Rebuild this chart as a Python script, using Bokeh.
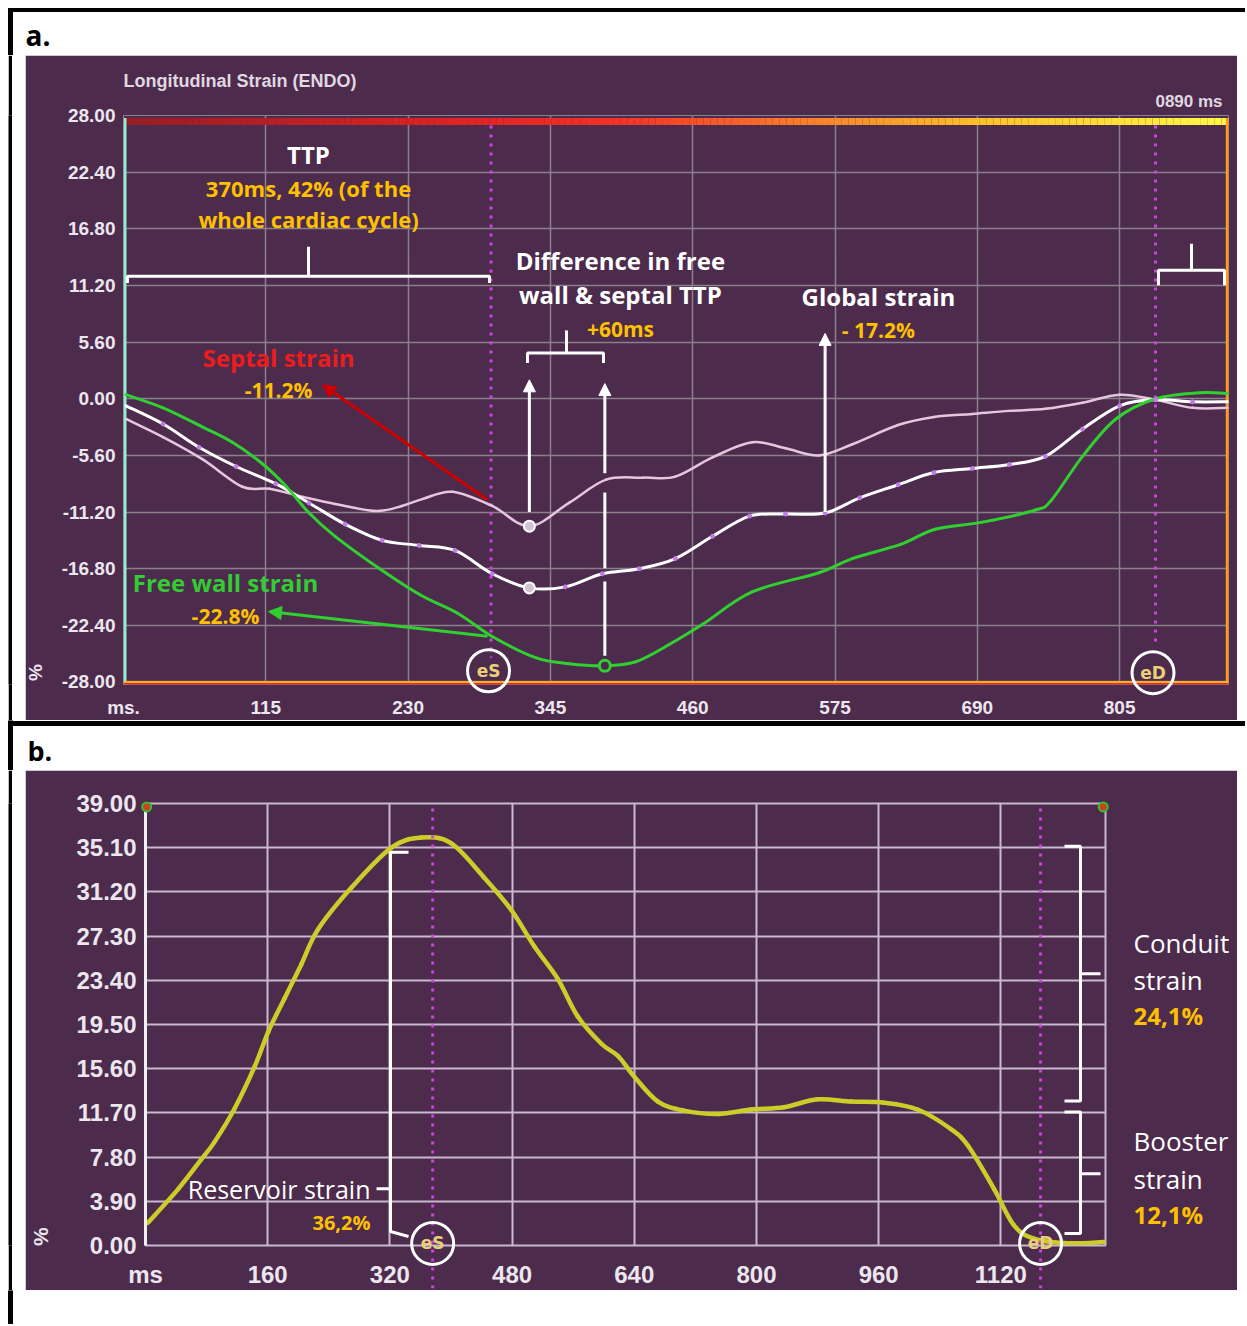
import numpy as np
from bokeh.plotting import figure
from bokeh.models import Range1d, FixedTicker, PrintfTickFormatter, Arrow, NormalHead
from bokeh.layouts import column, row
from bokeh.embed import file_html
from bokeh.resources import INLINE
from bokeh.core.properties import value

# ---------------- Panel a data: longitudinal strain (ENDO), % vs ms ----------------
fw_t = [2, 32, 64, 88, 112, 131, 150, 171, 207, 240, 270, 298, 333, 360, 389, 414, 441,
        468, 508, 562, 589, 628, 656, 694, 737, 750, 775, 802, 834, 870, 893]
fw_v = [0.4, -0.9, -2.8, -4.3, -6.4, -8.6, -11.3, -13.6, -16.8, -19.4, -21.2, -23.5, -25.6,
        -26.2, -26.4, -26.0, -24.3, -22.3, -19.1, -17.2, -15.8, -14.4, -12.9, -12.2, -11.0,
        -10.0, -5.7, -2.0, 0.0, 0.6, 0.5]
gl_t = [2, 32, 61, 91, 123, 150, 179, 209, 239, 268, 298, 328, 357, 387, 417, 446, 476, 506,
        535, 567, 595, 626, 655, 686, 716, 745, 775, 805, 834, 864, 893]
gl_v = [-0.7, -2.5, -4.8, -6.7, -8.4, -10.3, -12.4, -14.0, -14.5, -15.0, -17.3, -18.7, -18.6,
        -17.3, -16.8, -15.8, -13.6, -11.6, -11.4, -11.3, -9.8, -8.5, -7.3, -6.9, -6.5, -5.7,
        -3.0, -0.7, -0.1, -0.3, -0.3]
sp_t = [2, 32, 64, 96, 118, 145, 171, 204, 225, 242, 266, 298, 328, 360, 390, 420, 446, 476,
        508, 535, 562, 589, 626, 655, 686, 716, 745, 775, 805, 834, 864, 893]
sp_v = [-2.0, -3.8, -6.0, -8.7, -8.9, -9.7, -10.4, -11.1, -10.6, -9.9, -9.2, -10.6, -12.6,
        -10.3, -8.0, -7.8, -7.7, -5.8, -4.3, -4.9, -5.6, -4.5, -2.6, -1.8, -1.5, -1.2, -1.0,
        -0.4, 0.4, -0.1, -0.9, -0.9]
a_xticks = [0, 115, 230, 345, 460, 575, 690, 805]
a_yticks = [-28.0, -22.4, -16.8, -11.2, -5.6, 0.0, 5.6, 11.2, 16.8, 22.4, 28.0]
a_es, a_ed = 297, 834          # end-systole / end-diastole (ms)
a_global_t = 567               # global strain read-out time (ms)

# ---------------- Panel b data: left atrial strain, % vs ms ----------------
la_t = [3, 43, 73, 90, 116, 143, 161, 182, 204, 226, 270, 322, 361, 400, 443, 479, 509, 540,
        566, 597, 619, 640, 671, 705, 750, 793, 836, 880, 924, 967, 1011, 1054, 1077, 1111,
        1137, 1163, 1207, 1255]
la_v = [2.0, 5.0, 7.6, 9.1, 12.0, 15.8, 18.9, 21.8, 24.8, 27.9, 31.6, 35.1, 36.0, 35.5, 32.5,
        29.6, 26.4, 23.5, 20.2, 17.8, 16.7, 14.9, 12.7, 11.9, 11.6, 12.0, 12.2, 12.9, 12.7,
        12.6, 12.0, 10.3, 8.8, 5.0, 1.8, 0.6, 0.2, 0.3]
b_xticks = [0, 160, 320, 480, 640, 800, 960, 1120]
b_yticks = [round(3.9 * k, 2) for k in range(11)]
b_es, b_ed = 376, 1172

# ---------------- styles ----------------
BG = "#4c2b4c"
ORANGE = "#ffc000"
RED = "#ee1c1c"
GREEN_TXT = "#33cc33"
MAG = "#cc44dd"
TICK_TXT = "#ece6ee"
W = 1245


def blank(w, h, fill="white"):
    p = figure(width=w, height=h, x_range=Range1d(0, w), y_range=Range1d(0, h),
               toolbar_location=None, output_backend="svg", min_border=0,
               x_axis_type=None, y_axis_type=None)
    p.outline_line_color = None
    p.background_fill_color = fill
    p.border_fill_color = fill
    return p


def txt(p, x, y, text, color="white", size=24, font="Open Sans", style="bold",
        align="center", baseline="middle", angle=0.0):
    p.text(x=[x], y=[y], text=[text], text_color=color, text_font=value(font),
           text_font_size=f"{size}px", text_font_style=style, text_align=align,
           text_baseline=baseline, angle=angle, level="overlay")


def smooth(p, xs, ys, **kw):
    """Draw a smooth (Catmull-Rom) curve through the read data points."""
    P = np.column_stack([xs, ys]).astype(float)
    n = len(P)
    x0, y0, x1, y1, cx0, cy0, cx1, cy1 = ([] for _ in range(8))
    for i in range(n - 1):
        p0 = P[i - 1] if i > 0 else P[i]
        p1, p2 = P[i], P[i + 1]
        p3 = P[i + 2] if i + 2 < n else P[i + 1]
        c1 = p1 + (p2 - p0) / 6.0
        c2 = p2 - (p3 - p1) / 6.0
        x0.append(p1[0]); y0.append(p1[1]); x1.append(p2[0]); y1.append(p2[1])
        cx0.append(c1[0]); cy0.append(c1[1]); cx1.append(c2[0]); cy1.append(c2[1])
    p.bezier(x0=x0, y0=y0, x1=x1, y1=y1, cx0=cx0, cy0=cy0, cx1=cx1, cy1=cy1,
             line_cap="round", **kw)


def arrow(p, x0, y0, x1, y1, color, width=3, head=12, dash="solid"):
    end = NormalHead(size=head, fill_color=color, line_color=color, line_width=1) if head else None
    p.add_layout(Arrow(end=end, x_start=x0, y_start=y0, x_end=x1, y_end=y1,
                       line_color=color, line_width=width, line_dash=dash))


def ring(p, x, y, text):
    p.scatter([x], [y], marker="circle", size=42, fill_color=None, line_color="white",
              line_width=3, level="overlay")
    txt(p, x, y, text, color="#e8d07a", size=17, font="DejaVu Sans")


def style_axes(p, size):
    for ax in (p.xaxis, p.yaxis):
        ax.axis_line_color = None
        ax.major_tick_line_color = None
        ax.minor_tick_line_color = None
        ax.major_label_text_color = TICK_TXT
        ax.major_label_text_font = "Liberation Sans"
        ax.major_label_text_font_style = "bold"
        ax.major_label_text_font_size = size


def side_strips(h):
    return [blank(8, h), blank(4, h, "black"), blank(13, h)]


# ======================= header =======================
hdr = blank(W, 55)
hdr.quad(left=8, right=W, bottom=44, top=47, color="black")
hdr.quad(left=8, right=12, bottom=0, top=47, color="black")
txt(hdr, 25, 21, "a.", color="black", size=28, align="left")

# ======================= panel a =======================
pa = figure(width=1212, height=665, x_range=Range1d(0, 893), y_range=Range1d(-28.25, 28),
            toolbar_location=None, output_backend="svg",
            min_border_left=98, min_border_right=9, min_border_top=60, min_border_bottom=28)
pa.background_fill_color = BG
pa.border_fill_color = BG
pa.outline_line_color = "#8a808c"
style_axes(pa, "19px")
pa.xaxis.ticker = FixedTicker(ticks=a_xticks)
pa.xaxis.major_label_overrides = {0: "ms."}
pa.xaxis.major_label_standoff = 6
pa.yaxis.ticker = FixedTicker(ticks=a_yticks)
pa.yaxis.formatter = PrintfTickFormatter(format="%.2f")
pa.yaxis.major_label_standoff = 2
pa.grid.grid_line_color = "#8a808c"
pa.grid.grid_line_width = 1.5

# colour bar along the top
stops = [(0.0, (150, 30, 35)), (0.3, (225, 35, 35)), (0.45, (245, 50, 40)),
         (0.6, (250, 120, 40)), (0.78, (255, 195, 40)), (1.0, (255, 250, 70))]
N = 160
fs = np.linspace(0, 1, N + 1)
cols = []
for i in range(N):
    f = (fs[i] + fs[i + 1]) / 2
    for (f0, c0), (f1, c1) in zip(stops[:-1], stops[1:]):
        if f0 <= f <= f1:
            w = (f - f0) / (f1 - f0)
            c = tuple(int(c0[k] + w * (c1[k] - c0[k])) for k in range(3))
            cols.append("#%02x%02x%02x" % c)
            break
x_edges = fs * 893
pa.quad(left=x_edges[:-1], right=x_edges[1:], bottom=27.05, top=27.75, color=cols, line_color=None)

# frame edges
pa.segment(x0=[1.2], y0=[27.75], x1=[1.2], y1=[-28.25], color="#8ff0d0", line_width=3)
pa.segment(x0=[892], y0=[27.75], x1=[892], y1=[-28.25], color="#ff9a1a", line_width=3)
pa.segment(x0=[0], y0=[-28.0], x1=[893], y1=[-28.0], color="#ffb020", line_width=2)
pa.segment(x0=[0], y0=[-28.2], x1=[893], y1=[-28.2], color="#e02828", line_width=2)

# eS / eD markers
pa.segment(x0=[a_es], y0=[27.0], x1=[a_es], y1=[-25.6], color=MAG, line_width=3, line_dash="3 6")
pa.segment(x0=[a_ed], y0=[27.0], x1=[a_ed], y1=[-24.5], color=MAG, line_width=3, line_dash="3 6")

# curves
smooth(pa, sp_t, sp_v, line_color="#e6c6df", line_width=2.5)
smooth(pa, gl_t, gl_v, line_color="white", line_width=3)
smooth(pa, fw_t, fw_v, line_color="#2fd02f", line_width=3)
pa.scatter(gl_t[1:-1], gl_v[1:-1], size=4, color="#c27ae8")

i_sp = int(np.argmin(sp_v)); i_gl = int(np.argmin(gl_v)); i_fw = int(np.argmin(fw_v))
pa.scatter([sp_t[i_sp]], [sp_v[i_sp]], size=11, fill_color="#d8c0d8", line_color="white", line_width=2)
pa.scatter([gl_t[i_gl]], [gl_v[i_gl]], size=11, fill_color="#cfc4cf", line_color="white", line_width=2)
pa.scatter([fw_t[i_fw]], [fw_v[i_fw]], size=11, fill_color=BG, line_color="#2fd02f", line_width=3)

# brackets
pa.multi_line(xs=[[3.2, 3.2, 295.8, 295.8], [149.5, 149.5],
                  [836.4, 836.4, 889.8, 889.8], [863.1, 863.1],
                  [326.5, 326.5, 387.9, 387.9], [358.0, 358.0]],
              ys=[[11.43, 12.11, 12.11, 11.43], [12.11, 15.03],
                  [11.23, 12.69, 12.69, 11.23], [12.69, 15.33],
                  [3.53, 4.51, 4.51, 3.53], [4.51, 6.75]],
              color="white", line_width=3)

# TTP arrows
t_sp = sp_t[i_sp]
arrow(pa, t_sp, sp_v[i_sp] + 1.4, t_sp, 1.87, "white")
t_fw = fw_t[i_fw]
p_at = float(np.interp(t_fw, sp_t, sp_v)); g_at = float(np.interp(t_fw, gl_t, gl_v))
arrow(pa, t_fw, p_at + 0.7, t_fw, 1.5, "white")
pa.segment(x0=[t_fw, t_fw], y0=[p_at - 1.2, g_at - 0.8], x1=[t_fw, t_fw], y1=[g_at + 0.5, fw_v[i_fw] + 1.0],
           color="white", line_width=3)
g_gs = float(np.interp(a_global_t, gl_t, gl_v))
arrow(pa, a_global_t, g_gs + 0.1, a_global_t, 6.46, "white")
arrow(pa, 294.2, -10.02, 160.8, 1.39, "#cc0000", width=3, head=13)
arrow(pa, 294.2, -23.47, 117.2, -21.04, "#2fd02f", width=3, head=13)

# texts
txt(pa, 0, 31.41, "Longitudinal Strain (ENDO)", color="#e0d8e0", size=18,
    font="Liberation Sans", align="left")
txt(pa, 888.2, 29.36, "0890 ms", color="#e0d8e0", size=17, font="Liberation Sans", align="right")
txt(pa, -71.1, -27.08, "%", color=TICK_TXT, size=19, font="Liberation Sans", angle=np.pi / 2)
txt(pa, 149.5, 24.10, "TTP", size=24)
txt(pa, 149.5, 20.79, "370ms, 42% (of the", color=ORANGE, size=22)
txt(pa, 149.5, 17.76, "whole cardiac cycle)", color=ORANGE, size=22)
txt(pa, 401.6, 13.67, "Difference in free", size=24)
txt(pa, 401.6, 10.26, "wall & septal TTP", size=24)
txt(pa, 401.6, 6.94, "+60ms", color=ORANGE, size=21)
txt(pa, 610.1, 10.06, "Global strain", size=24)
txt(pa, 610.1, 6.75, "- 17.2%", color=ORANGE, size=21)
txt(pa, 125.3, 4.12, "Septal strain", color=RED, size=24)
txt(pa, 125.3, 0.90, "-11.2%", color=ORANGE, size=21)
txt(pa, 82.4, -18.21, "Free wall strain", color=GREEN_TXT, size=24)
txt(pa, 82.4, -21.52, "-22.8%", color=ORANGE, size=21)
ring(pa, a_es - 2, -26.89, "eS")
ring(pa, a_ed - 2, -27.08, "eD")

# ======================= divider =======================
div = blank(W, 50)
div.quad(left=8, right=W, bottom=45, top=49, color="black")
div.quad(left=8, right=12, bottom=0, top=50, color="black")
txt(div, 27, 20, "b.", color="black", size=27, align="left")

# ======================= panel b =======================
pb = figure(width=1212, height=520, x_range=Range1d(0, 1257), y_range=Range1d(0, 39),
            toolbar_location=None, output_backend="svg",
            min_border_left=120, min_border_right=132, min_border_top=33, min_border_bottom=43)
pb.background_fill_color = BG
pb.border_fill_color = BG
pb.outline_line_color = "#c8b8d0"
pb.outline_line_width = 2
style_axes(pb, "24px")
pb.xaxis.ticker = FixedTicker(ticks=b_xticks)
pb.xaxis.major_label_overrides = {0: "ms"}
pb.xaxis.major_label_standoff = 9
pb.yaxis.ticker = FixedTicker(ticks=b_yticks)
pb.yaxis.formatter = PrintfTickFormatter(format="%.2f")
pb.yaxis.major_label_standoff = 3
pb.yaxis.axis_line_color = "#f0f0f0"
pb.yaxis.axis_line_width = 3
pb.grid.grid_line_color = "#c8b8d0"
pb.grid.grid_line_width = 2

pb.segment(x0=[b_es, b_ed], y0=[38.56, 38.56], x1=[b_es, b_ed], y1=[-3.78, -3.78],
           color=MAG, line_width=3, line_dash="3 6", level="overlay")

smooth(pb, la_t, la_v, line_color="#cdcd2a", line_width=4.5)
pb.scatter([1.5, 1254], [38.7, 38.7], size=9, fill_color="#d04020", line_color="#30c030",
           line_width=2, level="overlay")

# brackets
pb.multi_line(xs=[[344.4, 320.8, 320.8, 344.4], [320.8, 302.5],
                  [1203.3, 1224.3, 1224.3, 1203.3], [1224.3, 1250.5],
                  [1203.3, 1224.3, 1224.3, 1203.3], [1224.3, 1250.5]],
              ys=[[34.70, 34.70, 1.23, 0.79], [5.0, 5.0],
                  [35.22, 35.22, 12.74, 12.74], [23.98, 23.98],
                  [11.77, 11.77, 1.05, 1.05], [6.32, 6.32]],
              color="white", line_width=3)

txt(pb, -137.5, 0.79, "%", color=TICK_TXT, size=21, font="Liberation Sans", angle=np.pi / 2)
txt(pb, 294.6, 5.0, "Reservoir strain", size=25, style="normal", align="right")
txt(pb, 294.6, 2.02, "36,2%", color=ORANGE, size=20, align="right")
txt(pb, 1293.7, 26.70, "Conduit", size=26, style="normal", align="left")
txt(pb, 1293.7, 23.45, "strain", size=26, style="normal", align="left")
txt(pb, 1293.7, 20.29, "24,1%", color=ORANGE, size=24, align="left")
txt(pb, 1293.7, 9.22, "Booster", size=26, style="normal", align="left")
txt(pb, 1293.7, 5.88, "strain", size=26, style="normal", align="left")
txt(pb, 1293.7, 2.72, "12,1%", color=ORANGE, size=24, align="left")
ring(pb, b_es, 0.18, "eS")
ring(pb, b_ed, 0.18, "eD")

# ======================= footer =======================
ftr = blank(W, 34)
ftr.quad(left=8, right=12, bottom=0, top=34, color="black")

rowA = row(*side_strips(665), pa, blank(8, 665))
rowB = row(*side_strips(520), pb, blank(8, 520))
layout = column(hdr, rowA, div, rowB, ftr)
open("out.html", "w").write(file_html(layout, INLINE))
